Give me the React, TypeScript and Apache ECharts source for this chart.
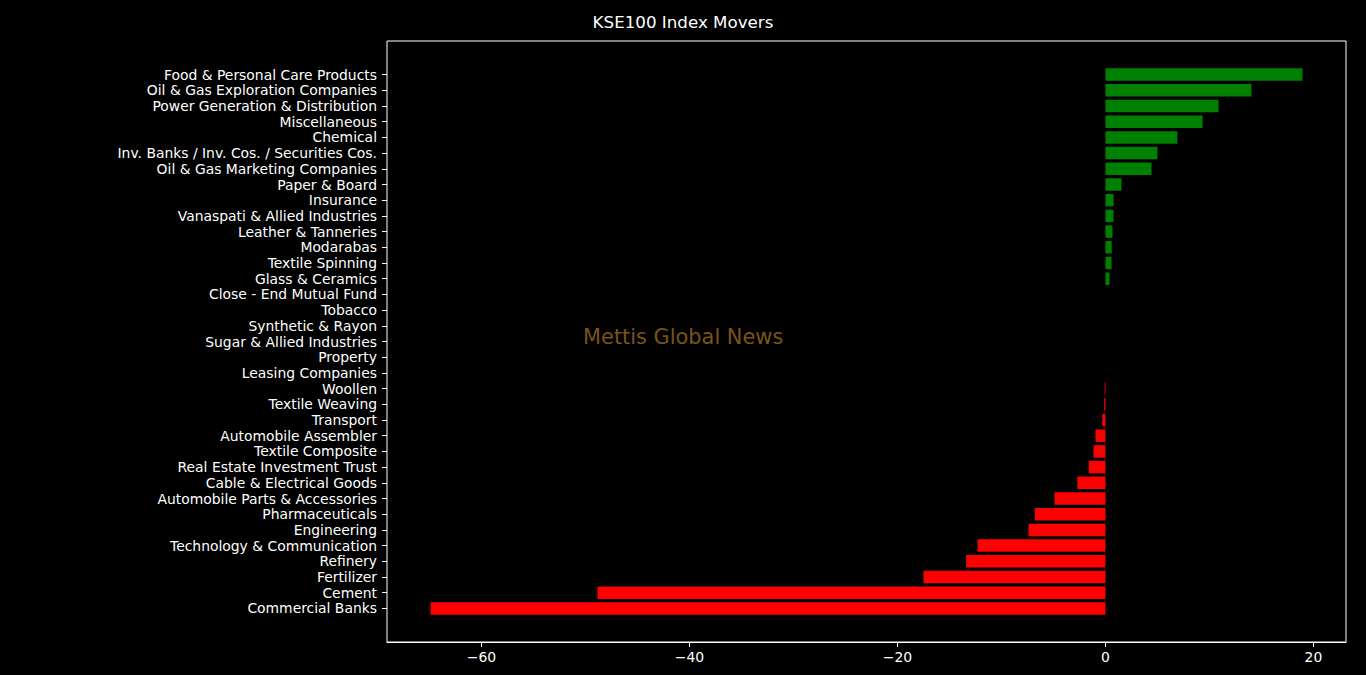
import React, { useEffect, useRef } from "react";
import * as echarts from "echarts";

const categories = [
  "Food & Personal Care Products",
  "Oil & Gas Exploration Companies",
  "Power Generation & Distribution",
  "Miscellaneous",
  "Chemical",
  "Inv. Banks / Inv. Cos. / Securities Cos.",
  "Oil & Gas Marketing Companies",
  "Paper & Board",
  "Insurance",
  "Vanaspati & Allied Industries",
  "Leather & Tanneries",
  "Modarabas",
  "Textile Spinning",
  "Glass & Ceramics",
  "Close - End Mutual Fund",
  "Tobacco",
  "Synthetic & Rayon",
  "Sugar & Allied Industries",
  "Property",
  "Leasing Companies",
  "Woollen",
  "Textile Weaving",
  "Transport",
  "Automobile Assembler",
  "Textile Composite",
  "Real Estate Investment Trust",
  "Cable & Electrical Goods",
  "Automobile Parts & Accessories",
  "Pharmaceuticals",
  "Engineering",
  "Technology & Communication",
  "Refinery",
  "Fertilizer",
  "Cement",
  "Commercial Banks",
];

const values = [
  18.94, 14.04, 10.87, 9.33, 6.92, 5.0, 4.42, 1.54, 0.78, 0.77, 0.67, 0.6,
  0.58, 0.38, 0, 0, 0, 0, 0, 0, -0.08, -0.12, -0.3, -0.96, -1.15, -1.6,
  -2.7, -4.9, -6.8, -7.4, -12.3, -13.4, -17.5, -48.85, -64.9,
];

const xTicks = [-60, -40, -20, 0, 20];

const X_MIN = -69.09;
const X_MAX = 23.13;

export default function App() {
  const ref = useRef<HTMLDivElement>(null);
  useEffect(() => {
    if (!ref.current) return;
    const chart = echarts.init(ref.current, null, { renderer: "svg" });
    const font = "DejaVu Sans";
    chart.setOption({
      animation: false,
      backgroundColor: "#000000",
      title: {
        text: "KSE100 Index Movers",
        left: "center",
        top: 8,
        textStyle: { color: "#ffffff", fontSize: 16.7, fontWeight: "normal", fontFamily: font },
      },
      graphic: [
        {
          type: "text",
          left: 583,
          top: 326,
          style: {
            text: "Mettis Global News",
            fill: "#7a5418",
            fontSize: 20.9,
            fontFamily: font,
          },
          z: 0,
        },
      ],
      grid: [
        { left: 387, right: 20, top: 41, bottom: 33, show: true, borderColor: "#ffffff", borderWidth: 1, backgroundColor: "transparent", z: 1 },
        { left: 387, right: 20, top: 66.75, height: 549.5, z: 2 },
      ],
      xAxis: [
        {
          type: "value",
          gridIndex: 0,
          min: X_MIN,
          max: X_MAX,
          splitLine: { show: false },
          axisLine: { show: true, onZero: false, lineStyle: { color: "#ffffff", width: 1 } },
          axisTick: { show: true, length: 5, lineStyle: { color: "#ffffff" }, customValues: xTicks },
          axisLabel: {
            color: "#ffffff",
            fontSize: 13.9,
            fontFamily: font,
            margin: 8,
            customValues: xTicks,
            formatter: (v: number) => String(v).replace("-", "\u2212"),
          },
        },
        {
          type: "value",
          gridIndex: 1,
          min: X_MIN,
          max: X_MAX,
          show: false,
          splitLine: { show: false },
        },
      ],
      yAxis: [
        {
          type: "value",
          gridIndex: 0,
          min: 0,
          max: 1,
          axisLine: { show: false },
          axisTick: { show: false },
          axisLabel: { show: false },
          splitLine: { show: false },
        },
        {
          type: "category",
          gridIndex: 1,
          data: categories,
          inverse: true,
          axisLine: { show: false, onZero: false },
          axisTick: { show: true, alignWithLabel: true, length: 5, lineStyle: { color: "#ffffff" } },
          axisLabel: { color: "#ffffff", fontSize: 13.9, fontFamily: font, margin: 10, interval: 0 },
          splitLine: { show: false },
        },
      ],
      series: [
        {
          type: "bar",
          xAxisIndex: 1,
          yAxisIndex: 1,
          barWidth: 12.5,
          data: values.map((v) => ({
            value: v,
            itemStyle: { color: v >= 0 ? "#008000" : "#ff0000" },
          })),
        },
      ],
    });
    return () => chart.dispose();
  }, []);
  return (
    <div
      ref={ref}
      style={{ position: "fixed", left: 0, top: 0, width: 1366, height: 675, background: "#000" }}
    />
  );
}
